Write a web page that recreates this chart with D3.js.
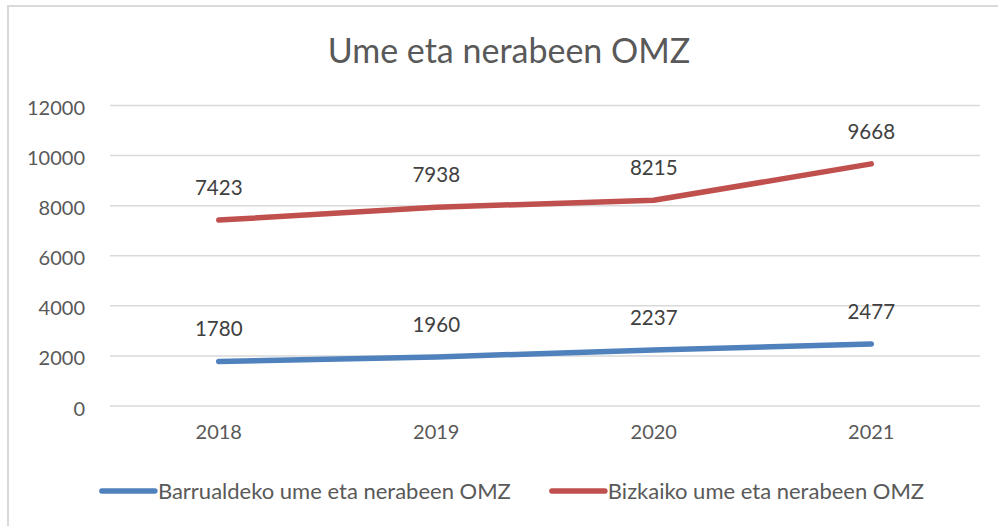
<!DOCTYPE html>
<html>
<head>
<meta charset="utf-8">
<script src="https://cdn.jsdelivr.net/npm/d3@7"></script>
<style>
  body { margin: 0; background: #fff; }
  svg { display: block; font-family: Lato, "Open Sans", sans-serif; }
</style>
</head>
<body>
<div id="chart"></div>
<script>
// data
var years = ["2018", "2019", "2020", "2021"];
var seriesNames = ["Barrualdeko ume eta nerabeen OMZ", "Bizkaiko ume eta nerabeen OMZ"];
var barrualdeko = [1780, 1960, 2237, 2477];
var bizkaiko = [7423, 7938, 8215, 9668];
var yTicks = [0, 2000, 4000, 6000, 8000, 10000, 12000];
var colors = ["#4F81BD", "#C0504D"];

var width = 998, height = 526;
var plotLeft = 110, plotRight = 980;
var plotTop = 105.5, plotBottom = 406;
var labelOffset = 25; // gap between point and its value label

var svg = d3.select("#chart").append("svg")
    .attr("width", width)
    .attr("height", height);

// chart frame (cropped on right / bottom like the picture)
svg.append("rect")
    .attr("x", 8).attr("y", 6)
    .attr("width", 1100).attr("height", 600)
    .attr("fill", "none")
    .attr("stroke", "#d9d9d9")
    .attr("stroke-width", 2);

// title
svg.append("text")
    .attr("x", 509).attr("y", 63)
    .attr("text-anchor", "middle")
    .attr("fill", "#595959")
    .style("font-size", "34px")
    .text("Ume eta nerabeen OMZ");

// scales
var x = d3.scaleBand().domain(years).range([plotLeft, plotRight]);
var y = d3.scaleLinear().domain([0, 12000]).range([plotBottom, plotTop]);
var xMid = function (d) { return x(d) + x.bandwidth() / 2; };

// grid lines
svg.append("g").selectAll("line").data(yTicks).enter().append("line")
    .attr("x1", plotLeft).attr("x2", plotRight)
    .attr("y1", function (d) { return y(d); })
    .attr("y2", function (d) { return y(d); })
    .attr("stroke", "#d9d9d9")
    .attr("stroke-width", 1.5);

// y labels
svg.append("g").selectAll("text").data(yTicks).enter().append("text")
    .attr("x", 85)
    .attr("y", function (d) { return y(d) + 9.5; })
    .attr("text-anchor", "end")
    .attr("fill", "#595959")
    .style("font-size", "20px")
    .text(function (d) { return d; });

// x labels
svg.append("g").selectAll("text").data(years).enter().append("text")
    .attr("x", xMid)
    .attr("y", 439)
    .attr("text-anchor", "middle")
    .attr("fill", "#595959")
    .style("font-size", "20px")
    .text(function (d) { return d; });

// lines + value labels
var allSeries = [barrualdeko, bizkaiko];
var line = d3.line()
    .x(function (d, i) { return xMid(years[i]); })
    .y(function (d) { return y(d); });

allSeries.forEach(function (vals, s) {
    svg.append("path")
        .datum(vals)
        .attr("d", line)
        .attr("fill", "none")
        .attr("stroke", colors[s])
        .attr("stroke-width", 5.5)
        .attr("stroke-linecap", "round")
        .attr("stroke-linejoin", "round");

    svg.append("g").selectAll("text").data(vals).enter().append("text")
        .attr("x", function (d, i) { return xMid(years[i]); })
        .attr("y", function (d) { return y(d) - labelOffset; })
        .attr("text-anchor", "middle")
        .attr("fill", "#404040")
        .style("font-size", "20.5px")
        .text(function (d) { return d; });
});

// legend
var legend = svg.append("g");
var lx = 0;
seriesNames.forEach(function (name, s) {
    var item = legend.append("g").attr("transform", "translate(" + lx + ",0)");
    item.append("line")
        .attr("x1", 2).attr("x2", 55)
        .attr("y1", 0).attr("y2", 0)
        .attr("stroke", colors[s])
        .attr("stroke-width", 5.5)
        .attr("stroke-linecap", "round");
    var t = item.append("text")
        .attr("x", 58).attr("y", 7.5)
        .attr("fill", "#595959")
        .style("font-size", "22px")
        .text(name);
    lx += 58 + t.node().getComputedTextLength() + 39;
});
lx -= 39;
legend.attr("transform", "translate(" + (512 - lx / 2) + ",491)");
</script>
</body>
</html>
